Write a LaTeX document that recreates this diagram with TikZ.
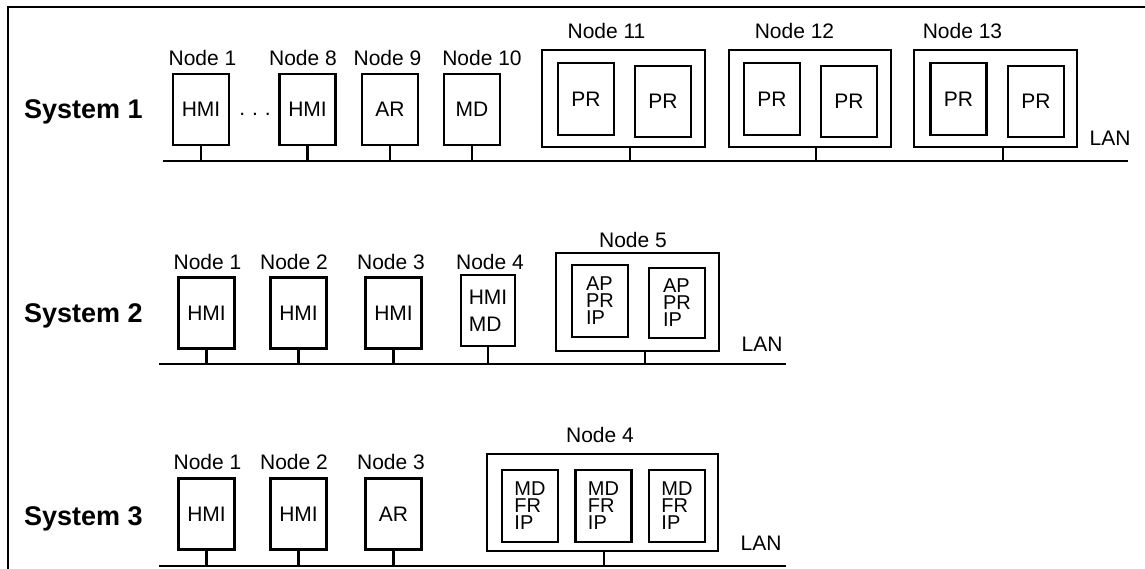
\documentclass[tikz,border=0pt]{standalone}
\usepackage{fontspec}
\setmainfont{Liberation Sans}
\newcommand{\fsN}{\fontsize{21}{21}\selectfont}
\newcommand{\fsS}{\fontsize{20}{17}\selectfont}
\newcommand{\fsT}{\fontsize{21}{27}\selectfont}
\begin{document}
\begin{tikzpicture}[x=1pt,y=-1pt,
  lw/.style={line width=2.3pt},
  pc/.style={draw, lw, inner sep=0pt, minimum width=56pt, minimum height=71pt, font=\fsN},
  inbox/.style={draw, lw, inner sep=0pt, minimum width=56pt, minimum height=72pt, font=\fsS, align=left},
  host/.style={draw, lw, inner sep=0pt},
  nlab/.style={font=\fsN, inner sep=0pt},
  syslab/.style={font=\fontsize{27}{27}\selectfont\bfseries, inner sep=0pt, anchor=base west},
  frame/.style={line width=2.7pt},
  lan/.style={lw},
  stub/.style={lw}]
\useasboundingbox (0,0) rectangle (1145,569);
% frame
\coordinate (fbl) at (8,569);
\coordinate (ftl) at (8,7);
\coordinate (ftr) at (1145,7);
\draw[frame] (fbl) -- (ftl) -- (ftr);

% ================= System 1 =================
\node[syslab] (sys1) at (24,119) {System 1};
\coordinate (l1w) at (163,161);
\coordinate (l1e) at (1128,161);
\draw[lan] (l1w) -- (l1e);
\node[nlab] (lan1) at (1110,138) {LAN};

\node[pc] (s1a) at (201,109.5) {HMI};
\node[pc] (s1b) at (307.5,109.5) {HMI};
\node[pc] (s1c) at (390,109.5) {AR};
\node[pc] (s1d) at (472,109.5) {MD};
\node[nlab, anchor=base] (dots1) at (255,116) {.\,\,.\,\,.};
\node[nlab] (s1la) at (202.5,58) {Node 1};
\node[nlab] (s1lb) at (303,58) {Node 8};
\node[nlab] (s1lc) at (387.5,58) {Node 9};
\node[nlab] (s1ld) at (482,58) {Node 10};

\node[host, minimum width=163pt, minimum height=97pt] (s1e) at (623.5,98.5) {};
\node[inbox, font=\fsN] (s1e1) at (586,99) {PR};
\node[inbox, font=\fsN, minimum height=71pt] (s1e2) at (663,101.5) {PR};
\node[nlab] (s1le) at (606.5,31) {Node 11};

\node[host, minimum width=162pt, minimum height=97pt] (s1f) at (810,98.5) {};
\node[inbox, font=\fsN] (s1f1) at (772,99) {PR};
\node[inbox, font=\fsN, minimum height=71pt] (s1f2) at (849,101.5) {PR};
\node[nlab] (s1lf) at (794.5,31) {Node 12};

\node[host, minimum width=163pt, minimum height=97pt] (s1g) at (995.5,98.5) {};
\node[inbox, font=\fsN] (s1g1) at (958.5,99) {PR};
\node[inbox, font=\fsN, minimum height=71pt] (s1g2) at (1036,101.5) {PR};
\node[nlab] (s1lg) at (962.5,31) {Node 13};

\foreach \n in {s1a,s1b,s1c,s1d}
  \draw[stub] (\n.south) -- (\n.south |- l1w);
\draw[stub] ([xshift=6.5pt]s1e.south) -- ([xshift=6.5pt]s1e.south |- l1w);
\draw[stub] ([xshift=6pt]s1f.south) -- ([xshift=6pt]s1f.south |- l1w);
\draw[stub] ([xshift=7.5pt]s1g.south) -- ([xshift=7.5pt]s1g.south |- l1w);

% ================= System 2 =================
\node[syslab] (sys2) at (24,322.5) {System 2};
\coordinate (l2w) at (159,364);
\coordinate (l2e) at (786,364);
\draw[lan] (l2w) -- (l2e);
\node[nlab] (lan2) at (762,344) {LAN};

\node[pc] (s2a) at (206.5,313) {HMI};
\node[pc] (s2b) at (298.5,313) {HMI};
\node[pc] (s2c) at (393.5,313) {HMI};
\node[pc, minimum width=54pt, font=\fsT, align=left] (s2d) at (488,310.5) {HMI\\MD};
\node[nlab] (s2la) at (207.5,262) {Node 1};
\node[nlab] (s2lb) at (294,262) {Node 2};
\node[nlab] (s2lc) at (391,262) {Node 3};
\node[nlab] (s2ld) at (490,262) {Node 4};

\node[host, minimum width=163pt, minimum height=98pt] (s2e) at (637.5,302) {};
\node[inbox] (s2e1) at (600,301) {AP\\PR\\IP};
\node[inbox, minimum height=70pt] (s2e2) at (677,303) {AP\\PR\\IP};
\node[nlab] (s2le) at (633,240) {Node 5};

\foreach \n in {s2a,s2b,s2c,s2d}
  \draw[stub] (\n.south) -- (\n.south |- l2w);
\draw[stub] ([xshift=7.5pt]s2e.south) -- ([xshift=7.5pt]s2e.south |- l2w);

% ================= System 3 =================
\node[syslab] (sys3) at (24,525) {System 3};
\coordinate (l3w) at (159,566);
\coordinate (l3e) at (786,566);
\draw[lan] (l3w) -- (l3e);
\node[nlab] (lan3) at (761,543) {LAN};

\node[pc] (s3a) at (206.5,514) {HMI};
\node[pc] (s3b) at (298.5,514) {HMI};
\node[pc] (s3c) at (393.5,514) {AR};
\node[nlab] (s3la) at (207.5,462) {Node 1};
\node[nlab] (s3lb) at (294,462) {Node 2};
\node[nlab] (s3lc) at (391,462) {Node 3};

\node[host, minimum width=231pt, minimum height=97pt] (s3d) at (602.5,502.5) {};
\node[inbox] (s3d1) at (530,506) {MD\\FR\\IP};
\node[inbox] (s3d2) at (603.5,506) {MD\\FR\\IP};
\node[inbox] (s3d3) at (677,506) {MD\\FR\\IP};
\node[nlab] (s3ld) at (600,435) {Node 4};

\foreach \n in {s3a,s3b,s3c}
  \draw[stub] (\n.south) -- (\n.south |- l3w);
\draw[stub] ([xshift=1.5pt]s3d.south) -- ([xshift=1.5pt]s3d.south |- l3w);
\end{tikzpicture}
\end{document}
